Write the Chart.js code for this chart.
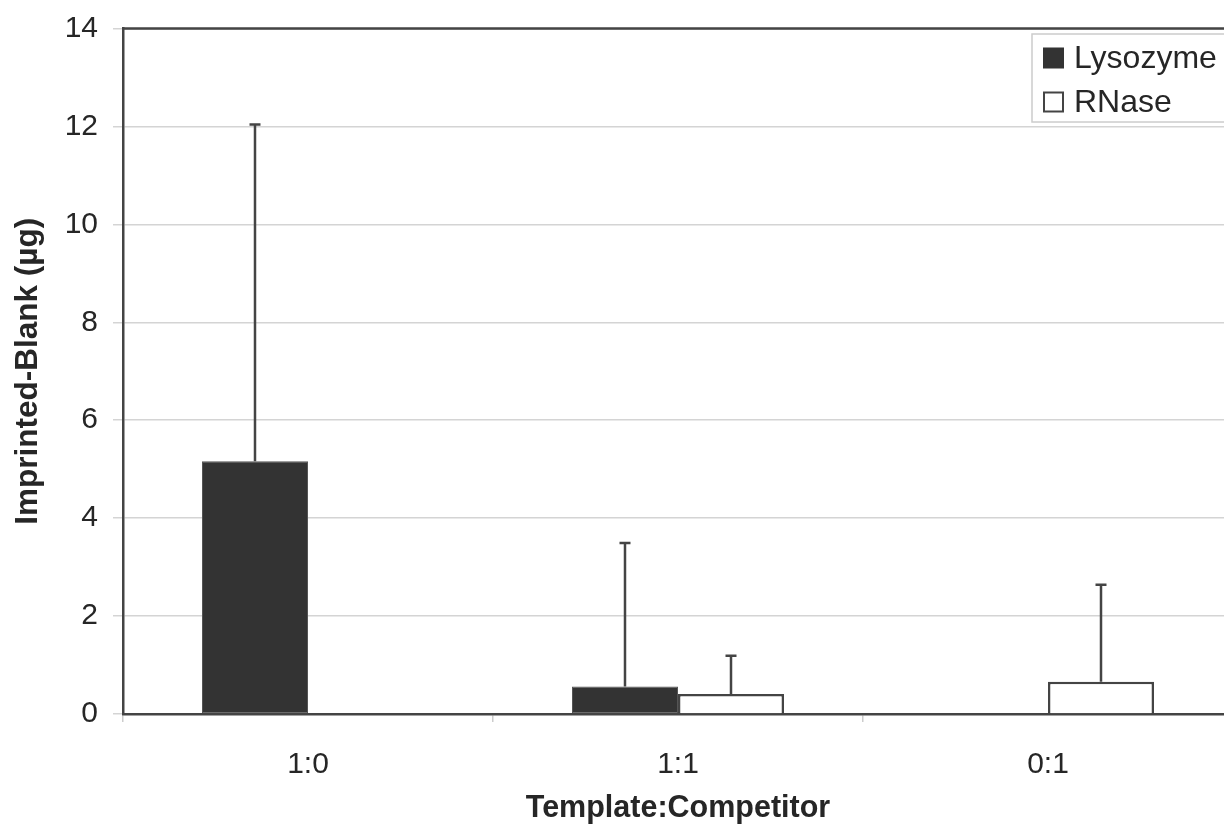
<!DOCTYPE html>
<html>
<head>
<meta charset="utf-8">
<script src="https://cdn.jsdelivr.net/npm/chart.js@4/dist/chart.umd.min.js"></script>
<style>
  html, body { margin: 0; padding: 0; background: #fff; overflow: hidden; }
  #wrap { width: 1240px; height: 833px; }
</style>
</head>
<body>
<div id="wrap"><canvas id="c" width="1240" height="833"></canvas></div>
<script>
// ---- data ----
const categories = ['1:0', '1:1', '0:1'];
const seriesNames = ['Lysozyme', 'RNase'];
const lysozymeValues = [5.16, 0.56, null];
const lysozymeErrors = [6.88, 2.93, null];
const rnaseValues = [null, 0.41, 0.66];
const rnaseErrors = [null, 0.78, 1.98];
const yTicksMin = 0, yTicksMax = 14, yTickStep = 2;
const xAxisTitle = 'Template:Competitor';
const yAxisTitle = 'Imprinted-Blank (\u00b5g)';

const FONT = "'Liberation Sans', Arial, sans-serif";
const DARK = '#333333';
const TEXT = '#262626';
const LINE = '#444444';

const errorBarPlugin = {
  id: 'errorBars',
  afterDatasetsDraw(chart) {
    const ctx = chart.ctx;
    const yScale = chart.scales.y;
    chart.data.datasets.forEach((ds, di) => {
      const meta = chart.getDatasetMeta(di);
      meta.data.forEach((bar, i) => {
        const v = ds.data[i];
        const e = ds.errors[i];
        if (v == null || e == null) return;
        const yTop = yScale.getPixelForValue(v + e);
        const yBase = yScale.getPixelForValue(v);
        ctx.save();
        ctx.strokeStyle = LINE;
        ctx.lineWidth = 2.5;
        ctx.beginPath();
        ctx.moveTo(bar.x, yBase);
        ctx.lineTo(bar.x, yTop);
        ctx.moveTo(bar.x - 5.5, yTop);
        ctx.lineTo(bar.x + 5.5, yTop);
        ctx.stroke();
        ctx.restore();
      });
    });
  }
};

const framePlugin = {
  id: 'frame',
  afterDatasetsDraw(chart) {
    const { ctx, chartArea } = chart;
    ctx.save();
    ctx.strokeStyle = LINE;
    ctx.lineWidth = 2.5;
    ctx.beginPath();
    ctx.moveTo(chartArea.left, chartArea.top);
    ctx.lineTo(chartArea.right, chartArea.top);
    ctx.lineTo(chartArea.right, chartArea.bottom);
    ctx.stroke();
    ctx.restore();
  }
};

const legendPlugin = {
  id: 'boxLegend',
  afterDraw(chart) {
    const ctx = chart.ctx;
    ctx.save();
    ctx.strokeStyle = '#cccccc';
    ctx.lineWidth = 1.5;
    ctx.fillStyle = '#ffffff';
    ctx.fillRect(1032, 34, 210, 88);
    ctx.strokeRect(1032, 34, 210, 88);
    ctx.font = '32px ' + FONT;
    ctx.textBaseline = 'middle';
    ctx.textAlign = 'left';
    const rows = [58, 102];
    chart.data.datasets.forEach((ds, i) => {
      const cy = rows[i];
      if (i === 0) {
        ctx.fillStyle = DARK;
        ctx.fillRect(1043, cy - 10.5, 21, 21);
      } else {
        ctx.fillStyle = '#fff';
        ctx.fillRect(1044, cy - 9.5, 19, 19);
        ctx.strokeStyle = LINE;
        ctx.lineWidth = 2;
        ctx.strokeRect(1044, cy - 9.5, 19, 19);
      }
      ctx.fillStyle = TEXT;
      ctx.fillText(ds.label, 1074, cy + 1);
    });
    ctx.restore();
  }
};

new Chart(document.getElementById('c'), {
  type: 'bar',
  data: {
    labels: categories,
    datasets: [
      {
        label: seriesNames[0],
        data: lysozymeValues,
        errors: lysozymeErrors,
        backgroundColor: DARK,
        borderColor: '#555555',
        borderWidth: 1,
        borderSkipped: false
      },
      {
        label: seriesNames[1],
        data: rnaseValues,
        errors: rnaseErrors,
        backgroundColor: '#ffffff',
        borderColor: LINE,
        borderWidth: 2.5,
        borderSkipped: 'bottom'
      }
    ]
  },
  options: {
    responsive: false,
    animation: false,
    devicePixelRatio: 1,
    layout: { padding: { top: 28.5, right: 7, left: 0, bottom: 0 } },
    categoryPercentage: 0.573,
    barPercentage: 1.0,
    plugins: {
      legend: { display: false },
      tooltip: { enabled: false }
    },
    scales: {
      x: {
        offset: true,
        grid: {
          offset: true,
          drawOnChartArea: false,
          drawTicks: true,
          tickLength: 8,
          color: '#cccccc',
          lineWidth: 1.5
        },
        border: { display: true, color: LINE, width: 2.5 },
        ticks: {
          color: TEXT,
          padding: 25,
          font: { family: FONT, size: 30 }
        },
        title: {
          display: true,
          text: xAxisTitle,
          color: TEXT,
          padding: { top: 6, bottom: 6 },
          font: { family: FONT, size: 30.5, weight: 'bold' }
        },
        afterFit(scale) { scale.height = 119; scale.paddingLeft = 0; scale.paddingRight = 0; }
      },
      y: {
        min: yTicksMin,
        max: yTicksMax,
        ticks: {
          stepSize: yTickStep,
          color: TEXT,
          padding: 15,
          font: { family: FONT, size: 30 }
        },
        grid: {
          color: '#d4d4d4',
          lineWidth: 1.5,
          tickLength: 10
        },
        border: { display: true, color: LINE, width: 2.5 },
        title: {
          display: true,
          text: yAxisTitle,
          color: TEXT,
          padding: { top: 9, bottom: 9 },
          font: { family: FONT, size: 31.5, weight: 'bold' }
        },
        afterFit(scale) { scale.width = 123; scale.paddingTop = 0; scale.paddingBottom = 0; }
      }
    }
  },
  plugins: [errorBarPlugin, framePlugin, legendPlugin]
});
</script>
</body>
</html>
